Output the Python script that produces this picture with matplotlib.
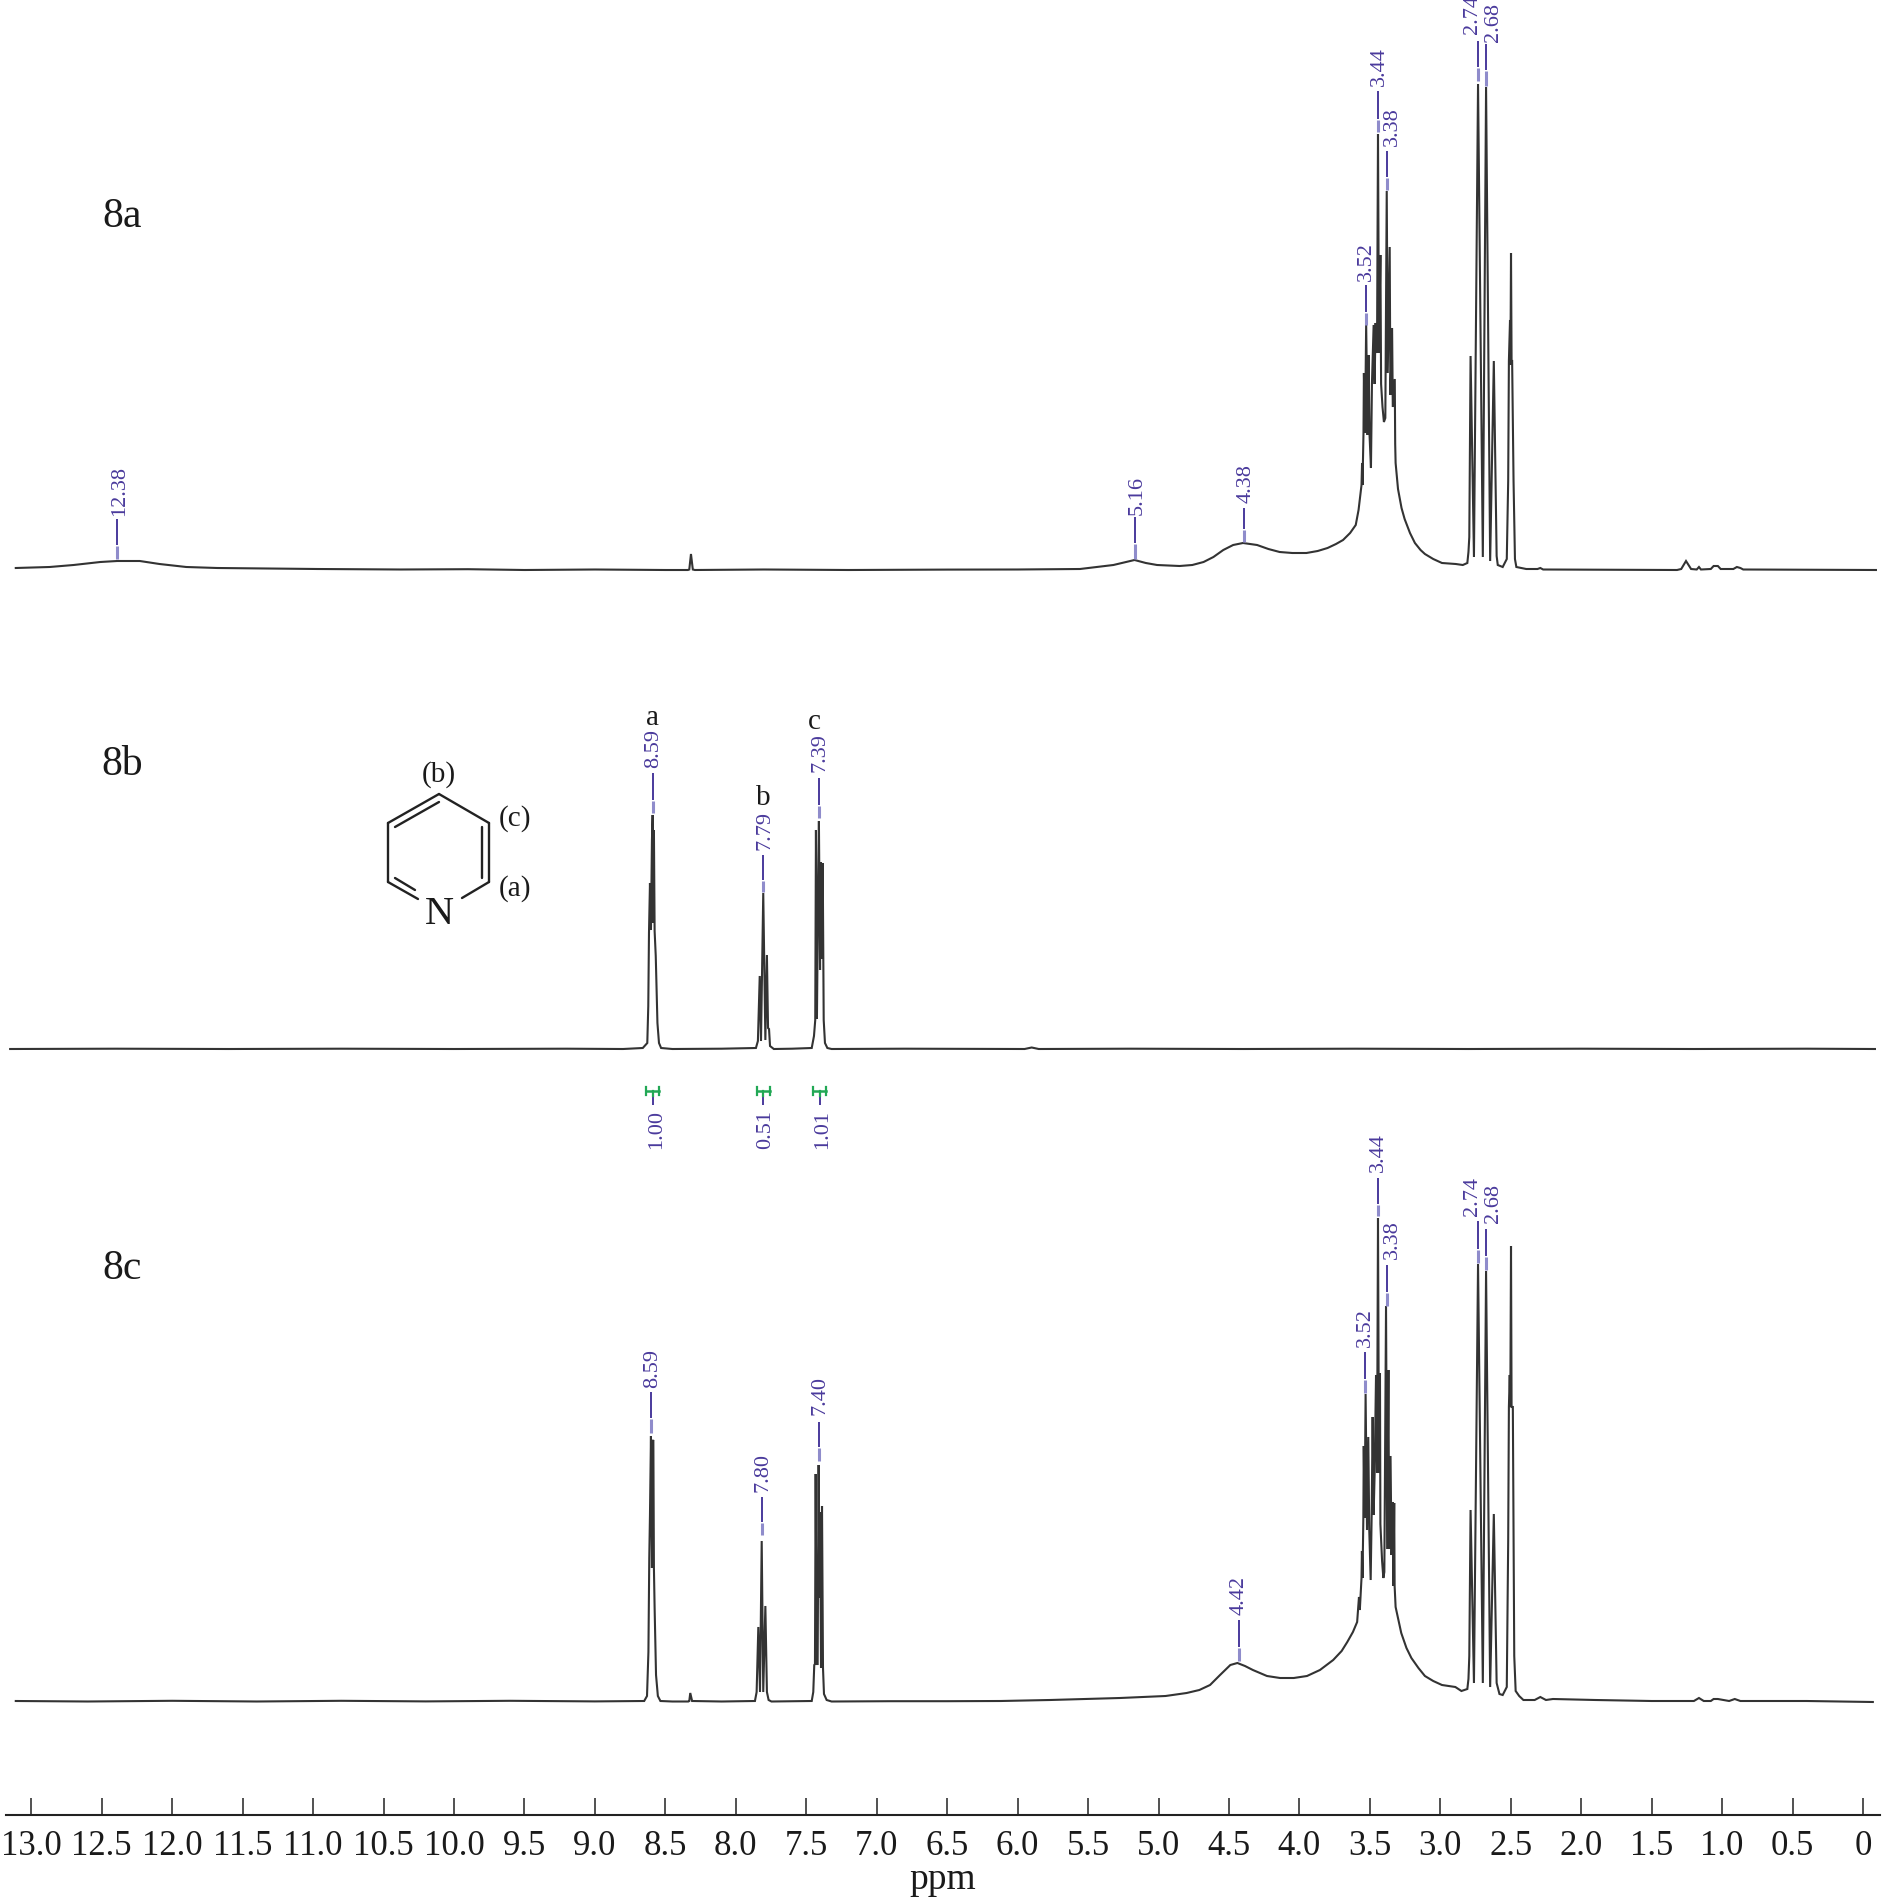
import matplotlib
matplotlib.use("Agg")
import matplotlib.pyplot as plt

SERIF = ["Liberation Serif", "DejaVu Serif"]
INK = "#333333"
BLUE = "#4a3a9c"
LIGHT = "#8f8ccb"
GREEN = "#22a855"

# ---------- spectrum 8a: ppm / height above baseline ----------
a_ppm = [13.11, 12.87, 12.70, 12.51, 12.39, 12.23, 12.09, 11.90, 11.68, 11.33, 10.97, 10.38, 9.9, 9.5, 9.0, 8.5, 8.34, 8.33, 8.318, 8.305, 8.29,
         7.8, 7.2, 6.5, 6.0, 5.557, 5.32, 5.17, 5.09, 5.01, 4.85, 4.76, 4.68, 4.61, 4.54, 4.47, 4.40, 4.30, 4.22, 4.14, 4.05, 3.95, 3.87, 3.80, 3.74, 3.69, 3.64, 3.60, 3.58, 3.57,
         3.559, 3.555, 3.552, 3.545, 3.542, 3.534, 3.526, 3.516, 3.509, 3.502, 3.492, 3.485, 3.473, 3.466, 3.459, 3.449, 3.442, 3.435,
         3.425, 3.42, 3.41, 3.40, 3.39, 3.38, 3.373, 3.359, 3.354, 3.342, 3.337, 3.323, 3.32, 3.317, 3.30, 3.275, 3.253, 3.215, 3.18, 3.14, 3.109, 3.05, 2.988, 2.89, 2.84,
         2.808, 2.80, 2.794, 2.785, 2.761, 2.732, 2.698, 2.675, 2.646, 2.62, 2.60, 2.592, 2.557, 2.528, 2.518, 2.513, 2.505, 2.502, 2.498, 2.494, 2.49, 2.48, 2.47, 2.46,
         2.39, 2.31, 2.29, 2.27, 1.8, 1.32, 1.29, 1.256, 1.22, 1.18, 1.164, 1.15, 1.08, 1.06, 1.03, 1.01, 0.92, 0.895, 0.87, 0.85, 0.4, -0.092]
a_h = [2, 3, 5, 8, 9, 9, 6, 3, 2, 1.5, 1, 0.5, 0.8, 0, 0.5, 0, 0, 0.5, 16, 0.5, 0,
       0.5, 0, 0.4, 0.5, 1, 5, 10, 7, 5, 4, 5, 8, 13, 20, 25, 27, 25, 21, 18, 17, 17, 19, 22, 26, 30, 37, 45, 60, 72,
       85, 107, 85, 137, 197, 137, 246, 135, 215, 135, 102, 186, 245, 186, 247, 217, 436, 217,
       315, 186, 163, 148, 152, 379, 197, 323, 175, 242, 163, 191, 126, 107, 81, 62, 51, 37, 27, 20, 16, 11, 7, 6, 5,
       7, 18, 33, 214, 13, 486, 13, 483, 9, 209, 14, 5, 3, 11, 89, 209, 250, 205, 317, 209, 209, 89, 11, 3,
       1, 1, 2, 0.5, 0.3, 0, 1, 9, 1, 0.5, 3, 0.5, 1, 4, 4, 1, 1, 3, 2, 0.5, 0.3, 0]

# ---------- spectrum 8b ----------
b_ppm = [13.15, 12.4, 11.6, 10.8, 10.0, 9.2, 8.8, 8.66, 8.628, 8.621, 8.616, 8.609, 8.602, 8.595, 8.590, 8.585, 8.581, 8.576, 8.568, 8.556, 8.545, 8.53, 8.45,
         8.1, 7.857, 7.843, 7.830, 7.821, 7.805, 7.79, 7.779, 7.771, 7.764, 7.757, 7.73, 7.6, 7.461, 7.445, 7.436, 7.431, 7.424, 7.417, 7.41, 7.402, 7.397, 7.393,
         7.383, 7.376, 7.367, 7.35, 7.32, 6.8, 5.95, 5.9, 5.85, 5.2, 4.4, 3.6, 2.8, 2.0, 1.2, 0.4, -0.085]
b_h = [0, 0.3, 0, 0.3, 0, 0.3, 0, 1, 6, 43, 116, 166, 119, 209, 234, 126, 219, 118, 93, 26, 6, 1, 0,
       0.3, 1, 8, 73, 8, 156, 9, 94, 21, 20, 3, 0, 0.3, 1, 13, 29, 219, 30, 140, 228, 79, 187, 90,
       186, 29, 6, 1, 0, 0.3, 0, 1.5, 0, 0.3, 0, 0.3, 0, 0.3, 0, 0.3, 0]

# ---------- spectrum 8c ----------
c_ppm = [13.11, 12.6, 12.0, 11.4, 10.8, 10.2, 9.6, 9.0, 8.7, 8.65, 8.63, 8.62, 8.614, 8.609, 8.602, 8.595, 8.590, 8.585, 8.581, 8.576, 8.566, 8.553, 8.535, 8.45,
         8.337, 8.33, 8.323, 8.31, 8.1, 7.864, 7.852, 7.840, 7.828, 7.816, 7.805, 7.79, 7.779, 7.767, 7.747, 7.6, 7.461, 7.45, 7.443, 7.438, 7.433, 7.426, 7.419, 7.412,
         7.407, 7.402, 7.395, 7.388, 7.381, 7.374, 7.355, 7.32, 6.9, 6.5, 6.12, 5.77, 5.273, 4.95, 4.80, 4.71, 4.634, 4.563, 4.49, 4.44, 4.386, 4.33, 4.23, 4.137, 4.04, 3.946, 3.854, 3.76, 3.70, 3.66, 3.62, 3.59, 3.577,
         3.571, 3.559, 3.556, 3.552, 3.546, 3.543, 3.537, 3.53, 3.52, 3.511, 3.504, 3.494, 3.487, 3.48, 3.473, 3.466, 3.456, 3.449, 3.442, 3.435, 3.428, 3.425, 3.413, 3.404, 3.397,
         3.385, 3.377, 3.368, 3.363, 3.353, 3.346, 3.336, 3.332, 3.327, 3.324, 3.317, 3.277, 3.24, 3.205, 3.155, 3.109, 3.05, 2.988, 2.893, 2.85, 2.808, 2.80, 2.794, 2.785, 2.761, 2.732, 2.698, 2.675, 2.646,
         2.62, 2.60, 2.58, 2.557, 2.528, 2.518, 2.513, 2.507, 2.503, 2.498, 2.494, 2.49, 2.485, 2.475, 2.465, 2.44, 2.41, 2.33, 2.29, 2.25, 2.2, 1.9, 1.5, 1.2, 1.164, 1.13, 1.08, 1.06, 1.03, 0.95, 0.91, 0.87, 0.4, -0.07]
c_h = [1, 0.5, 1.2, 0.5, 1.2, 0.6, 1.2, 0.6, 1, 1, 6, 50, 144, 187, 266, 134, 261, 262, 134, 94, 27, 6, 1, 0.5,
       0.5, 1, 9, 1, 0.5, 1, 10, 75, 10, 161, 10, 96, 10, 2, 0.5, 0.8, 1, 10, 37, 38, 228, 38, 38, 237,
       104, 190, 34, 196, 34, 8, 2, 0.5, 0.8, 0.8, 1, 2, 4, 6, 9, 12, 17, 27, 37, 39, 36, 32, 26, 24, 24, 26, 32, 42, 51, 60, 70, 80, 105,
       92, 124, 151, 124, 184, 256, 184, 308, 172, 265, 172, 122, 187, 285, 187, 228, 327, 229, 484, 229, 329, 178, 141, 124, 130,
       396, 153, 332, 153, 246, 147, 200, 116, 199, 116, 95, 69, 54, 44, 34, 26, 21, 17, 15, 11, 13, 23, 46, 192, 19, 438, 19, 431, 15,
       188, 19, 8, 7, 15, 161, 295, 327, 295, 456, 295, 295, 295, 46, 11, 6, 2, 2, 5, 2, 3, 2, 1, 1, 4, 1, 1, 3, 3, 1, 3, 1, 1, 0]

# ---------- peak labels: text, stem ppm, text bottom, stem top, stem break, stem end (image rows) ----------
pk_text = ["12.38", "5.16", "4.38", "3.52", "3.44", "3.38", "2.74", "2.68",
           "8.59", "7.79", "7.39",
           "8.59", "7.80", "7.40", "4.42", "3.52", "3.44", "3.38", "2.74", "2.68"]
pk_ppm = [12.39, 5.17, 4.39, 3.53, 3.44, 3.38, 2.735, 2.675,
          8.59, 7.805, 7.41,
          8.60, 7.815, 7.41, 4.43, 3.535, 3.44, 3.38, 2.735, 2.675]
pk_text_ppm = [12.376, 5.149, 4.376, 3.523, 3.433, 3.337, 2.770, 2.625,
               8.583, 7.791, 7.403,
               8.593, 7.808, 7.403, 4.43, 3.528, 3.44, 3.337, 2.770, 2.625]
pk_text_y = [516, 515, 503, 281, 86, 146, 34, 42,
             768, 850, 772,
             1388, 1492, 1415, 1615, 1347, 1172, 1259, 1216, 1223]
pk_top = [519, 517, 508, 285, 91, 151, 41, 44,
          773, 855, 778,
          1392, 1497, 1422, 1620, 1352, 1178, 1265, 1221, 1229]
pk_mid = [545, 543, 529, 312, 119, 177, 67, 70,
          800, 880, 805,
          1418, 1522, 1447, 1647, 1379, 1204, 1292, 1249, 1256]
pk_end = [559, 559, 542, 325, 132, 190, 81, 86,
          813, 892, 818,
          1433, 1535, 1461, 1661, 1393, 1216, 1306, 1263, 1270]

# ---------- integrals ----------
int_text = ["1.00", "0.51", "1.01"]
int_ppm = [8.59, 7.805, 7.405]
int_text_ppm = [8.56, 7.785, 7.385]

# ---------- other texts ----------
panel_names = ["8a", "8b", "8c"]
panel_rows = [217, 765, 1269]
baselines = [570, 1049, 1702]
assign_text = ["a", "b", "c"]
assign_ppm = [8.59, 7.805, 7.44]
assign_rows = [718, 798, 722]
tick_vals = [13.0, 12.5, 12.0, 11.5, 11.0, 10.5, 10.0, 9.5, 9.0, 8.5, 8.0, 7.5, 7.0, 6.5, 6.0,
             5.5, 5.0, 4.5, 4.0, 3.5, 3.0, 2.5, 2.0, 1.5, 1.0, 0.5, 0.0]
tick_text = ["13.0", "12.5", "12.0", "11.5", "11.0", "10.5", "10.0", "9.5", "9.0", "8.5", "8.0", "7.5", "7.0", "6.5", "6.0",
             "5.5", "5.0", "4.5", "4.0", "3.5", "3.0", "2.5", "2.0", "1.5", "1.0", "0.5", "0"]

W, H = 1892, 1901
fig = plt.figure(figsize=(W / 100, H / 100), dpi=100, facecolor="white")
ax = fig.add_axes([0, 0, 1, 1])
ax.set_xlim(13.222, -0.206)
ax.set_ylim(H, 0)
ax.axis("off")

for ppm, h, base in zip((a_ppm, b_ppm, c_ppm), (a_h, b_h, c_h), baselines):
    ax.plot(ppm, [base - v for v in h], color=INK, lw=1.5, solid_joinstyle="miter")

for t, x, tx, ty, top, mid, end in zip(pk_text, pk_ppm, pk_text_ppm, pk_text_y, pk_top, pk_mid, pk_end):
    ax.plot([x, x], [top, mid], color=BLUE, lw=1.4, solid_capstyle="butt")
    ax.plot([x, x], [mid + 1, end], color=LIGHT, lw=2.2, solid_capstyle="butt")
    ax.text(tx, ty, t, rotation=90, ha="center", va="bottom", color=BLUE, fontsize=16, family=SERIF)

for t, x, tx in zip(int_text, int_ppm, int_text_ppm):
    half = 0.045
    ax.plot([x, x], [1095, 1105], color=BLUE, lw=1.4, solid_capstyle="butt")
    ax.plot([x - half, x + half], [1091, 1091], color=GREEN, lw=1.8)
    ax.plot([x - half, x - half], [1087, 1095], color=GREEN, lw=1.6)
    ax.plot([x + half, x + half], [1087, 1095], color=GREEN, lw=1.6)
    ax.plot([x, x], [1091, 1096], color=GREEN, lw=1.6)
    ax.text(tx, 1110, t, rotation=90, ha="center", va="top", color=BLUE, fontsize=16, family=SERIF)

for name, row in zip(panel_names, panel_rows):
    ax.text(12.355, row, name, ha="center", va="center", color="#1a1a1a", fontsize=30, family=SERIF)
for t, x, row in zip(assign_text, assign_ppm, assign_rows):
    ax.text(x, row, t, ha="center", va="center", color="#1a1a1a", fontsize=21, family=SERIF)

ax.text(943 / W, 1 - 1880 / H, "ppm", transform=ax.transAxes, ha="center", va="center",
        color="#1a1a1a", fontsize=27, family=SERIF)

# ---------- pyridine drawing ----------
mol = fig.add_axes([0, 0, 1, 1], facecolor="none")
mol.set_xlim(0, W)
mol.set_ylim(H, 0)
mol.axis("off")
bonds = [
    ((388, 823), (439, 794)),
    ((439, 794), (489, 823)),
    ((489, 823), (489, 882)),
    ((489, 882), (462, 898)),
    ((388, 823), (388, 882)),
    ((388, 882), (418, 899)),
]
inner = [((395, 827), (439, 802)), ((482, 827), (482, 878)), ((395, 878), (415, 890))]
for (p, q) in bonds + inner:
    mol.plot([p[0], q[0]], [p[1], q[1]], color="#222222", lw=1.7, solid_capstyle="round")
mol.text(439, 915, "N", ha="center", va="center", fontsize=29, family=SERIF, color="#1a1a1a")
mol.text(439, 775, "(b)", ha="center", va="center", fontsize=21, family=SERIF, color="#1a1a1a")
mol.text(515, 819, "(c)", ha="center", va="center", fontsize=21, family=SERIF, color="#1a1a1a")
mol.text(515, 889, "(a)", ha="center", va="center", fontsize=21, family=SERIF, color="#1a1a1a")

# ---------- ppm axis ----------
axis_left, axis_right, axis_row = 6, 1880, 1815
sc = fig.add_axes([axis_left / W, 1 - axis_row / H, (axis_right - axis_left) / W, 0.02], facecolor="none")
sc.set_xlim((1863 - axis_left) / 140.9, (1863 - axis_right) / 140.9)
sc.set_yticks([])
for s in ("top", "left", "right"):
    sc.spines[s].set_visible(False)
sc.spines["bottom"].set_linewidth(1.5)
sc.spines["bottom"].set_color("#222222")
sc.set_xticks(tick_vals)
sc.set_xticklabels(tick_text, family=SERIF, fontsize=25, color="#1a1a1a")
sc.tick_params(axis="x", direction="in", length=12.5, width=1.1, color="#222222", pad=11)

fig.savefig("out.png", dpi=100, facecolor="white")
